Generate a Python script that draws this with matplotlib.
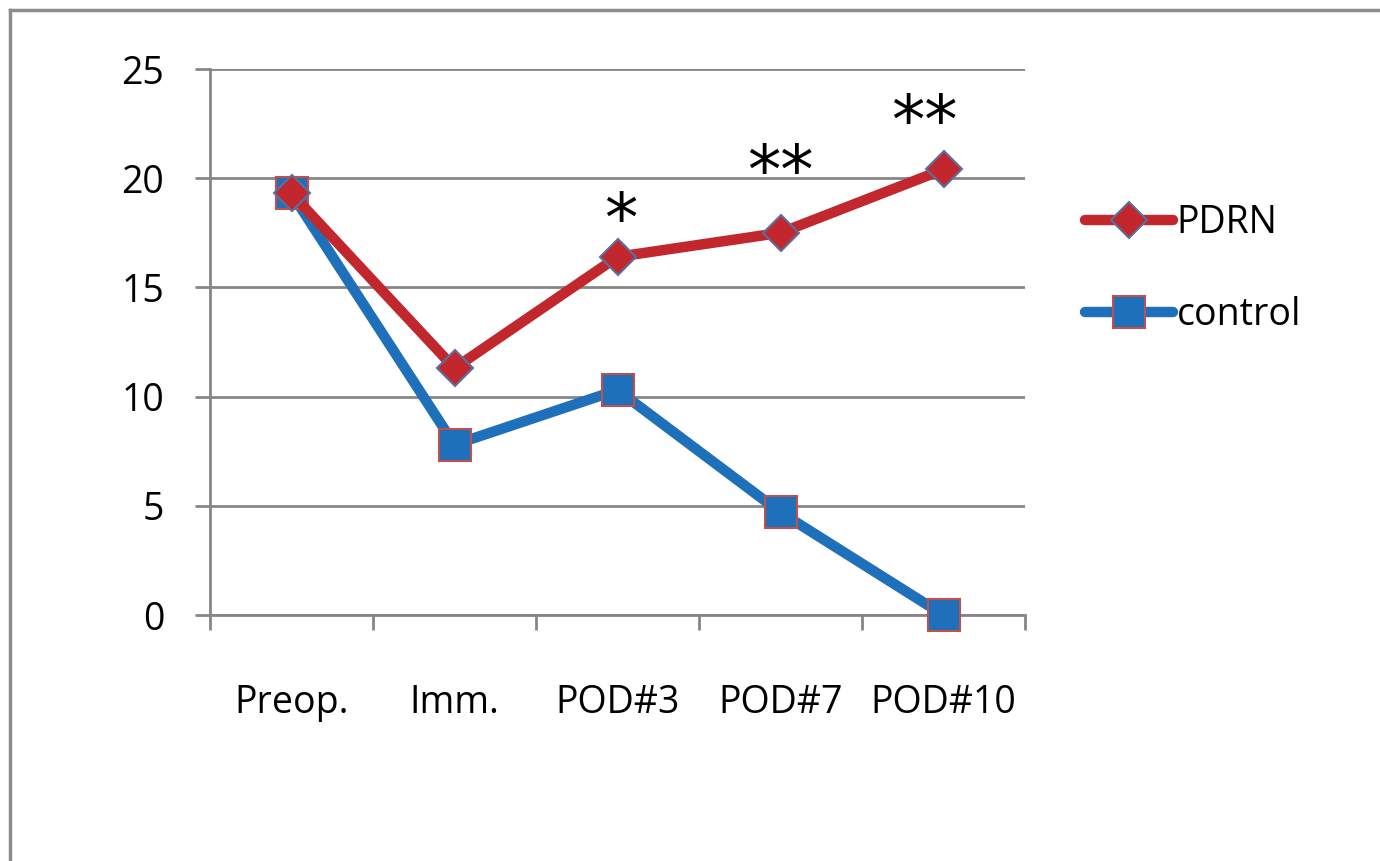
import matplotlib
matplotlib.use("Agg")
import matplotlib.pyplot as plt
from matplotlib.lines import Line2D

categories = ["Preop.", "Imm.", "POD#3", "POD#7", "POD#10"]
pdrn = [19.3, 11.3, 16.4, 17.5, 20.4]
control = [19.3, 7.8, 10.3, 4.7, 0.0]
stars = ["", "", "*", "**", "**"]
star_y = [None, None, 18.0, 20.2, 22.5]
star_dx = [0, 0, 0.02, 0.0, -0.12]
yticks = [0, 5, 10, 15, 20, 25]

plt.rcParams['font.family'] = ['Open Sans', 'DejaVu Sans']

fig = plt.figure(figsize=(13.8, 8.61), dpi=100)
ax = fig.add_axes([210/1380, 1 - 615/861, (1025-210)/1380, (615-69)/861])

x = list(range(len(categories)))
red = "#C1272D"
blue = "#1F70BA"

l1, = ax.plot(x, pdrn, color=red, lw=7.5, marker="D", markersize=18,
              markerfacecolor=red, markeredgecolor="#5B6FA0", markeredgewidth=1.5,
              label="PDRN", zorder=4, solid_capstyle="round", clip_on=False)
l2, = ax.plot(x, control, color=blue, lw=7.5, marker="s", markersize=23,
              markerfacecolor=blue, markeredgecolor="#C0504D", markeredgewidth=1.5,
              label="control", zorder=3, solid_capstyle="round", clip_on=False)

ax.set_xlim(-0.5, len(categories) - 0.5)
ax.set_ylim(0, 25)
ax.set_yticks(yticks)
ax.set_yticklabels([str(v) for v in yticks], fontsize=27)
ax.set_xticks([i - 0.5 for i in range(len(categories) + 1)], minor=False)
ax.set_xticklabels([])
ax.set_xticks(x, minor=True)
ax.set_xticklabels(categories, minor=True, fontsize=27)
ax.tick_params(axis="x", which="minor", length=0, pad=50)
ax.tick_params(axis="x", which="major", length=11, width=2, color="#868686", direction="out")
ax.tick_params(axis="y", length=11, width=2, color="#868686", direction="out", pad=22)
ax.grid(axis="y", color="#868686", lw=2)
ax.set_axisbelow(True)
for s in ["top", "right"]:
    ax.spines[s].set_visible(False)
for s in ["left", "bottom"]:
    ax.spines[s].set_color("#868686")
    ax.spines[s].set_linewidth(2)

for i, (s, yy) in enumerate(zip(stars, star_y)):
    if s:
        ax.text(i + star_dx[i], yy, s, ha="center", va="center", fontsize=48,
                color="black", family=["DejaVu Sans"])

leg = ax.legend(handles=[l1, l2], loc="upper left", bbox_to_anchor=(1.055, 0.78),
                frameon=False, fontsize=27, handlelength=2.35, handletextpad=0.1,
                labelspacing=1.45, borderaxespad=0)

fig.add_artist(Line2D([10/1380, 10/1380], [0, 1 - 10/861], transform=fig.transFigure,
                      color="#8c8c8c", lw=2.5))
fig.add_artist(Line2D([10/1380, 1], [1 - 10/861, 1 - 10/861], transform=fig.transFigure,
                      color="#8c8c8c", lw=2.5))

fig.savefig("out.png", dpi=100)
